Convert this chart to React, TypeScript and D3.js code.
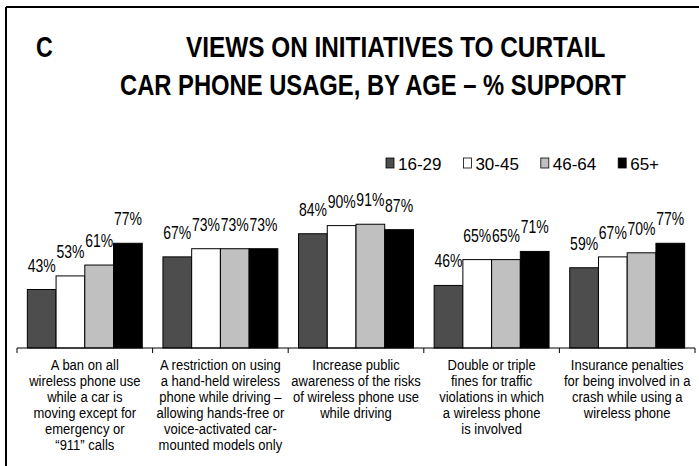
import React from "react";
import * as d3 from "d3";

const categories: string[][] = [
  ["A ban on all", "wireless phone use", "while a car is", "moving except for", "emergency or", "\u201C911\u201D calls"],
  ["A restriction on using", "a hand-held wireless", "phone while driving \u2013", "allowing hands-free or", "voice-activated car-", "mounted models only"],
  ["Increase public", "awareness of the risks", "of wireless phone use", "while driving"],
  ["Double or triple", "fines for traffic", "violations in which", "a wireless phone", "is involved"],
  ["Insurance penalties", "for being involved in a", "crash while using a", "wireless phone"],
];
const seriesNames = ["16-29", "30-45", "46-64", "65+"];
const age1629 = [43, 67, 84, 46, 59];
const age3045 = [53, 73, 90, 65, 67];
const age4664 = [61, 73, 91, 65, 70];
const age65 = [77, 73, 87, 71, 77];
const seriesValues = [age1629, age3045, age4664, age65];
const colors = ["#4d4d4d", "#ffffff", "#c0c0c0", "#000000"];
const titleLine1 = "VIEWS ON INITIATIVES TO CURTAIL";
const titleLine2 = "CAR PHONE USAGE, BY AGE \u2013 % SUPPORT";

const W = 699;
const H = 466;
const FONT = "'Liberation Sans', Arial, Helvetica, sans-serif";

export default function App() {
  const idx = categories.map((_, i) => String(i));
  const x0 = d3.scaleBand<string>().domain(idx).range([17, 695]).paddingInner(0).paddingOuter(0);
  const x1 = d3
    .scaleBand<string>()
    .domain(seriesNames)
    .range([0, x0.bandwidth()])
    .paddingInner(0)
    .paddingOuter(0.36);
  const y = d3.scaleLinear().domain([0, 100]).range([348, 212]);
  const baseY = y(0);

  const tickXs = [...idx.map((c) => x0(c) as number), 695];

  return (
    <svg
      width={W}
      height={H}
      style={{ position: "absolute", left: 0, top: 0, background: "#fff" }}
      fontFamily={FONT}
    >
      <rect x={0} y={0} width={W} height={H} fill="#fff" />
      {/* frame */}
      <line x1={6} y1={7} x2={W} y2={7} stroke="#000" strokeWidth={2} />
      <line x1={6} y1={7} x2={6} y2={H} stroke="#000" strokeWidth={2} />

      {/* title */}
      <g transform={`translate(36,57) scale(0.8,1)`}>
        <text x={0} y={0} fontSize={29} fontWeight="bold" fill="#000">C</text>
      </g>
      <g transform={`translate(186,57) scale(0.84,1)`}>
        <text x={0} y={0} fontSize={29} fontWeight="bold" fill="#000">{titleLine1}</text>
      </g>
      <g transform={`translate(120,95) scale(0.82,1)`}>
        <text x={0} y={0} fontSize={29} fontWeight="bold" fill="#000">{titleLine2}</text>
      </g>

      {/* legend */}
      {seriesNames.map((s, i) => {
        const lx = 386 + i * 77.4;
        return (
          <g key={s}>
            <rect x={lx} y={158} width={8} height={10} fill={colors[i]} stroke="#000" strokeWidth={0.8} />
            <text x={lx + 12} y={169.5} fontSize={17} fill="#000">{s}</text>
          </g>
        );
      })}

      {/* bars */}
      {idx.map((c, ci) => (
        <g key={c} transform={`translate(${x0(c)},0)`}>
          {seriesNames.map((s, si) => {
            const v = seriesValues[si][ci];
            const bx = x1(s) as number;
            const bw = x1.bandwidth();
            return (
              <g key={s}>
                <rect
                  x={bx}
                  y={y(v)}
                  width={bw}
                  height={baseY - y(v)}
                  fill={colors[si]}
                  stroke="#000"
                  strokeWidth={1}
                />
                <g transform={`translate(${bx + bw / 2},${y(v) - 18}) scale(0.8,1)`}>
                  <text x={0} y={0} fontSize={17.5} textAnchor="middle" fill="#000">{`${v}%`}</text>
                </g>
              </g>
            );
          })}
        </g>
      ))}

      {/* axis */}
      <line x1={17} y1={baseY} x2={695} y2={baseY} stroke="#000" strokeWidth={1} />
      {tickXs.map((tx, i) => (
        <line key={i} x1={tx} y1={baseY} x2={tx} y2={baseY + 5} stroke="#000" strokeWidth={1} />
      ))}

      {/* category labels */}
      {categories.map((lines, ci) => {
        const cx = (x0(String(ci)) as number) + x0.bandwidth() / 2;
        return (
          <g key={ci}>
            {lines.map((ln, li) => (
              <g key={li} transform={`translate(${cx},${369.5 + li * 16}) scale(0.84,1)`}>
                <text x={0} y={0} fontSize={15.5} textAnchor="middle" fill="#000">{ln}</text>
              </g>
            ))}
          </g>
        );
      })}
    </svg>
  );
}
